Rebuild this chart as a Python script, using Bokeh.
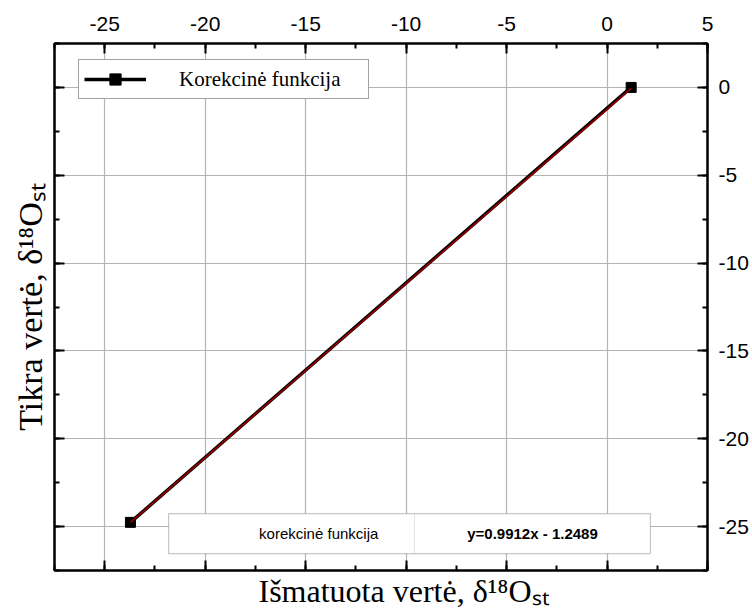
from bokeh.plotting import figure
from bokeh.models import (LinearAxis, SingleIntervalTicker, Label, BoxAnnotation,
                          Legend, LegendItem, Range1d, Title, PrintfTickFormatter)
from bokeh.embed import file_html
from bokeh.resources import INLINE

# Standards: measured vs. true delta-18O values
measured = [-23.72, 1.20]
true_vals = [-24.76, 0.0]

# Linear correction function fitted to the standards
slope = 0.9912
intercept = -1.2489

series_name = "Korekcinė funkcija"
table_name = "korekcinė funkcija"
equation = f"y={slope:.4f}x - {abs(intercept):.4f}"
x_title = "Išmatuota vertė, δ¹⁸Oₛₜ"
y_title = "Tikra vertė, δ¹⁸Oₛₜ"

fit_vals = [slope * x + intercept for x in measured]

SERIF = "Liberation Serif"
SANS = "Liberation Sans"

p = figure(width=752, height=611,
           x_range=Range1d(-27.5, 5), y_range=Range1d(-27.5, 2.5),
           x_axis_location="above", y_axis_location="right",
           output_backend="svg", toolbar_location=None,
           min_border_left=54, min_border_right=45,
           min_border_top=43, min_border_bottom=41)
p.background_fill_color = "white"
p.border_fill_color = "white"
p.outline_line_color = "black"
p.outline_line_width = 2


def style_axis(ax, show_labels):
    ax.ticker = SingleIntervalTicker(interval=5, num_minor_ticks=2)
    ax.formatter = PrintfTickFormatter(format="%d")
    ax.axis_line_color = "black"
    ax.axis_line_width = 2
    ax.major_tick_in = 10
    ax.major_tick_out = 0
    ax.minor_tick_in = 5
    ax.minor_tick_out = 0
    ax.major_tick_line_color = "black"
    ax.major_tick_line_width = 2
    ax.minor_tick_line_color = "black"
    ax.minor_tick_line_width = 2
    ax.major_label_text_font = SANS
    if show_labels:
        ax.major_label_text_font_size = "21px"
        ax.major_label_text_color = "black"
    else:
        ax.major_label_text_font_size = "0px"
        ax.major_label_text_color = None
        ax.major_label_standoff = 0


top_ax = p.xaxis[0]
right_ax = p.yaxis[0]
style_axis(top_ax, True)
style_axis(right_ax, True)
top_ax.major_label_standoff = 13
right_ax.major_label_standoff = 11

bottom_ax = LinearAxis()
left_ax = LinearAxis()
style_axis(bottom_ax, False)
style_axis(left_ax, False)
bottom_ax.major_label_standoff = 3
p.add_layout(bottom_ax, "below")
p.add_layout(left_ax, "left")

for g in p.grid:
    g.ticker = SingleIntervalTicker(interval=5)
    g.grid_line_color = "#b4b4b4"
    g.grid_line_width = 1.2

# Data series and fitted line
r_line = p.line(measured, true_vals, line_color="black", line_width=3.5)
r_pts = p.scatter(measured, true_vals, marker="square", size=10, color="black")
p.line(measured, fit_vals, line_color="#9b0000", line_width=1.6)

legend = Legend(items=[LegendItem(label=series_name, renderers=[r_line, r_pts])],
                location=(24, 471), orientation="vertical",
                label_text_font=SERIF, label_text_font_size="21px",
                label_text_color="black",
                glyph_width=62, glyph_height=28, label_standoff=33,
                padding=5, spacing=0, margin=0, label_width=184,
                border_line_color="#444444", border_line_width=1.2,
                background_fill_color="white", background_fill_alpha=1)
p.add_layout(legend)

# Equation table at the bottom of the plot
T_LEFT, T_MID, T_RIGHT = -21.82, -9.58, 2.16
T_TOP, T_BOTTOM = -24.26, -26.54
T_NAME_X = -14.35
p.add_layout(BoxAnnotation(left=T_LEFT, right=T_RIGHT, bottom=T_BOTTOM, top=T_TOP,
                           fill_color="white", fill_alpha=1,
                           line_color="#444444", line_width=1.2))
p.add_layout(BoxAnnotation(left=T_MID, right=T_MID, bottom=T_BOTTOM, top=T_TOP,
                           fill_alpha=0, line_color="#c8c8c8", line_width=1))
t_mid_y = (T_TOP + T_BOTTOM) / 2
p.add_layout(Label(x=T_NAME_X, y=t_mid_y, text=table_name,
                   text_align="center", text_baseline="middle",
                   text_font=SANS, text_font_size="15px", text_color="black"))
p.add_layout(Label(x=(T_MID + T_RIGHT) / 2, y=t_mid_y, text=equation,
                   text_align="center", text_baseline="middle",
                   text_font=SANS, text_font_size="15px", text_font_style="bold",
                   text_color="black"))

# Axis titles
p.add_layout(Title(text=x_title, align="left", offset=204, standoff=0,
                   text_font=SERIF, text_font_size="32px", text_font_style="normal",
                   text_color="black"), "below")
p.add_layout(Title(text=y_title, align="center", offset=0, standoff=12,
                   text_font=SERIF, text_font_size="34px", text_font_style="normal",
                   text_color="black"), "left")

open("out.html", "w").write(file_html(p, INLINE))
